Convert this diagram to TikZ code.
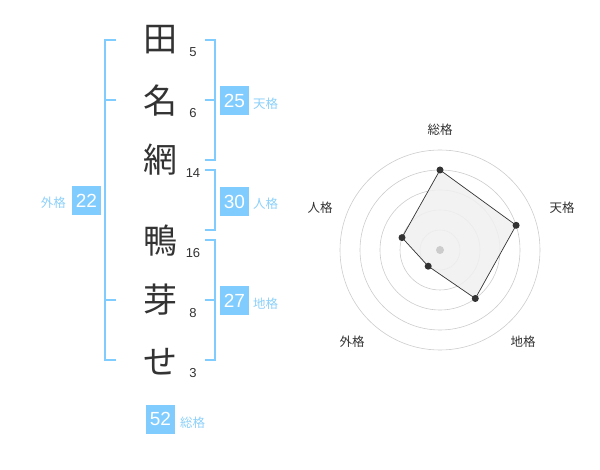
\documentclass[tikz,border=0pt]{standalone}
\usepackage{fontspec}
\setmainfont{Liberation Sans}
\newfontfamily\jp{Noto Sans CJK JP}
\definecolor{sky}{RGB}{128,204,255}
\definecolor{skytxt}{RGB}{140,208,250}
\definecolor{ink}{RGB}{51,51,51}
\definecolor{ring}{RGB}{204,204,204}
\definecolor{area}{RGB}{240,240,240}
\tikzset{
  kanji/.style={text=ink,inner sep=0,font=\fontsize{34}{34}\jp},
  stroke/.style={text=ink,inner sep=0,font=\fontsize{13}{13}\selectfont},
  numbox/.style={fill=sky,text=white,minimum width=29,minimum height=29,inner sep=0,font=\fontsize{19}{19}\selectfont},
  lbl/.style={text=skytxt,inner sep=0,font=\fontsize{12.5}{12.5}\jp},
  br/.style={draw=sky,line width=2pt},
  axis/.style={text=ink,inner sep=0,font=\fontsize{12.5}{12.5}\jp},
  ringline/.style={draw=ring,line width=0.6pt},
  dot/.style={circle,fill=ink,inner sep=0,minimum size=7},
}
\begin{document}
\begin{tikzpicture}[x=1pt,y=-1pt]
\useasboundingbox (0,0) rectangle (600,470);
% characters
\node[kanji] (c1) at (160,40) {田};
\node[kanji] (c2) at (160,101) {名};
\node[kanji] (c3) at (160,160) {網};
\node[kanji] (c4) at (160,241) {鴨};
\node[kanji] (c5) at (160,300) {芽};
\node[kanji] (c6) at (160,362) {せ};
\node[stroke] (s1) at (193,52) {5};
\node[stroke] (s2) at (193,113) {6};
\node[stroke] (s3) at (193,173) {14};
\node[stroke] (s4) at (193,253) {16};
\node[stroke] (s5) at (193,313) {8};
\node[stroke] (s6) at (193,373) {3};
% brackets
\draw[br] (116,40) -- (105,40) -- (105,360) -- (116,360);
\draw[br] (105,100) -- (116,100);
\draw[br] (105,300) -- (116,300);
\draw[br] (205,40) -- (215,40) -- (215,160) -- (205,160);
\draw[br] (205,100) -- (215,100);
\draw[br] (205,170) -- (215,170) -- (215,230) -- (205,230);
\draw[br] (205,240) -- (215,240) -- (215,360) -- (205,360);
\draw[br] (205,300) -- (215,300);
% boxes
\node[numbox] (b25) at (234.5,100.5) {25};
\node[lbl,anchor=west] (l25) at (253,104) {天格};
\node[numbox] (b30) at (234.5,201.5) {30};
\node[lbl,anchor=west] (l30) at (253,204) {人格};
\node[numbox] (b27) at (234.5,300.5) {27};
\node[lbl,anchor=west] (l27) at (253,304) {地格};
\node[numbox] (b22) at (86.5,200.5) {22};
\node[lbl,anchor=east] (l22) at (66,203) {外格};
\node[numbox] (b52) at (160.5,419) {52};
\node[lbl,anchor=west] (l52) at (180,423) {総格};
% radar
\coordinate (o) at (440,250);
\foreach \r in {20,40,60,80,100} \draw[ringline] (o) circle[radius=\r];
\coordinate (p1) at (440,170);
\coordinate (p2) at (516.1,225.3);
\coordinate (p3) at (475.3,298.5);
\coordinate (p4) at (428.2,266.2);
\coordinate (p5) at (402,237.6);
\draw[fill=area,fill opacity=0.85,draw=ink,line width=0.7pt] (p1) -- (p2) -- (p3) -- (p4) -- (p5) -- cycle;
\node[circle,fill=ring,inner sep=0,minimum size=8] (oc) at (o) {};
\foreach \p in {p1,p2,p3,p4,p5} \node[dot] at (\p) {};
\node[axis] (a1) at (440,130) {総格};
\node[axis] (a2) at (562,208) {天格};
\node[axis] (a3) at (320,208) {人格};
\node[axis] (a4) at (352,342) {外格};
\node[axis] (a5) at (523,342) {地格};
\end{tikzpicture}
\end{document}
